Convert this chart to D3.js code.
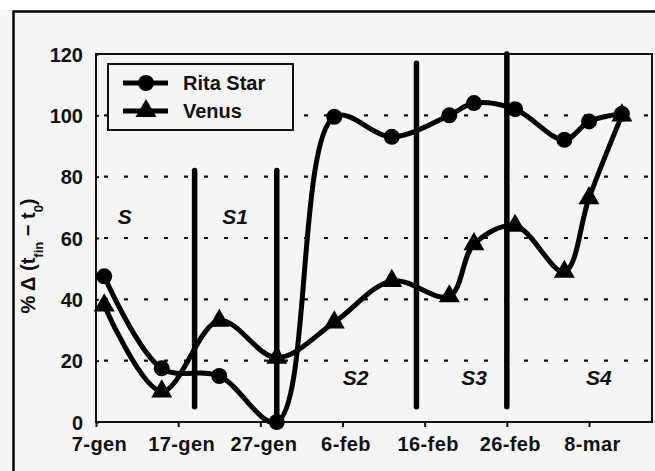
<!DOCTYPE html>
<html>
<head>
<meta charset="utf-8">
<script src="https://cdn.jsdelivr.net/npm/d3@7"></script>
<style>
  body { margin: 0; background: #fff; }
  text { font-family: "Liberation Sans", Arial, sans-serif; font-weight: bold; fill: #111; }
</style>
</head>
<body>
<div id="chart"></div>
<script>
// sampling dates (year is not shown, non-leap)
var dates = ["2001-01-08", "2001-01-15", "2001-01-22", "2001-01-29", "2001-02-05", "2001-02-12",
             "2001-02-19", "2001-02-22", "2001-02-27", "2001-03-05", "2001-03-08", "2001-03-12"]
var ritaStar = [47.5, 17.5, 15, 0, 99.5, 93, 100, 104, 102, 92, 98, 100.5]
var venus    = [38, 10, 33, 21, 32.5, 46, 41, 58, 64, 49, 73, 100]

var tickDates  = ["2001-01-07", "2001-01-17", "2001-01-27", "2001-02-06", "2001-02-16", "2001-02-26", "2001-03-08"]
var tickLabels = ["7-gen", "17-gen", "27-gen", "6-feb", "16-feb", "26-feb", "8-mar"]
var yTicks = [0, 20, 40, 60, 80, 100, 120]

// phase dividers and names
var dividerDates = ["2001-01-19", "2001-01-29", "2001-02-15", "2001-02-26"]
var dividerFrom  = [5, 0, 5, 5]
var dividerTo    = [82, 82, 117, 120]
var phaseNames = ["S", "S1", "S2", "S3", "S4"]
var phaseDates = ["2001-01-10T12:00", "2001-01-23T22:00", "2001-02-07T14:00", "2001-02-22", "2001-03-09T05:00"]
var phaseVals  = [64.5, 64.5, 12, 12, 12]

var parse = d3.isoParse

function showChart() {
  var width = 655, height = 471
  var margin = { left: 96, right: 3, top: 54, bottom: 49 }

  var svg = d3.select("#chart").append("svg")
      .attr("width", width)
      .attr("height", height)

  // page background and frame
  svg.append("rect").attr("x", 0).attr("y", 10).attr("width", width).attr("height", height - 10)
      .attr("fill", "#f5f5f5")
  svg.append("path").attr("d", "M13.5,471V11.5H655")
      .attr("fill", "none").attr("stroke", "#000").attr("stroke-width", 2.5)

  var x = d3.scaleTime()
      .domain([parse("2001-01-07"), parse("2001-03-15T16:00")])
      .range([margin.left, width - margin.right])
  var y = d3.scaleLinear()
      .domain([0, 120])
      .range([height - margin.bottom, margin.top])

  // dotted grid
  svg.append("g").selectAll("line")
    .data(yTicks.filter(function(d){ return d > 0 && d < 120 }))
    .enter().append("line")
      .attr("x1", x.range()[0] + 8).attr("x2", x.range()[1])
      .attr("y1", function(d){ return y(d) }).attr("y2", function(d){ return y(d) })
      .attr("stroke", "#111").attr("stroke-width", 2.2)
      .attr("stroke-dasharray", "4,16")

  // plot frame
  svg.append("rect")
      .attr("x", x.range()[0]).attr("y", y(120))
      .attr("width", x.range()[1] - x.range()[0]).attr("height", y(0) - y(120))
      .attr("fill", "none").attr("stroke", "#111").attr("stroke-width", 2)

  // axes
  var xAxis = svg.append("g")
      .attr("transform", "translate(0," + y(0) + ")")
      .call(d3.axisBottom(x)
        .tickValues(tickDates.map(parse))
        .tickFormat(function(d, i){ return tickLabels[i] })
        .tickSize(5).tickPadding(10))
  xAxis.select(".domain").remove()
  xAxis.selectAll("line").attr("stroke", "#111").attr("stroke-width", 2)
  xAxis.selectAll("text").style("font-size", "20px").style("letter-spacing", "0.4px").attr("dx", "0.15em")

  var yAxis = svg.append("g")
      .attr("transform", "translate(" + x.range()[0] + ",0)")
      .call(d3.axisLeft(y).tickValues(yTicks).tickSize(4).tickPadding(9))
  yAxis.select(".domain").remove()
  yAxis.selectAll("line").attr("x2", 3).attr("stroke", "#111").attr("stroke-width", 2)
  yAxis.selectAll("text").style("font-size", "20px").attr("dy", "0.36em")

  // y title
  var title = svg.append("text")
      .attr("transform", "translate(35," + 256 + ") rotate(-90)")
      .attr("text-anchor", "middle")
      .style("font-size", "20px")
  title.append("tspan").text("% \u0394 (t")
  title.append("tspan").text("fin").attr("baseline-shift", "sub").style("font-size", "13px")
  title.append("tspan").text(" \u2212 t")
  title.append("tspan").text("0").attr("baseline-shift", "sub").style("font-size", "13px")
  title.append("tspan").text(")")

  // phase dividers
  svg.append("g").selectAll("line")
    .data(dividerDates)
    .enter().append("line")
      .attr("x1", function(d){ return x(parse(d)) }).attr("x2", function(d){ return x(parse(d)) })
      .attr("y1", function(d, i){ return y(dividerFrom[i]) })
      .attr("y2", function(d, i){ return y(dividerTo[i]) })
      .attr("stroke", "#000").attr("stroke-width", 5.5).attr("stroke-linecap", "round")

  svg.append("g").selectAll("text")
    .data(phaseNames)
    .enter().append("text")
      .attr("x", function(d, i){ return x(parse(phaseDates[i])) })
      .attr("y", function(d, i){ return y(phaseVals[i]) })
      .attr("text-anchor", "middle")
      .style("font-size", "21px").style("font-style", "italic")
      .text(function(d){ return d })

  // series
  var line = d3.line()
      .x(function(d){ return x(d.date) })
      .y(function(d){ return y(d.value) })
      .curve(d3.curveCatmullRom.alpha(0.5))

  function toPoints(values) {
    return values.map(function(v, i){ return { date: parse(dates[i]), value: v } })
  }
  var rita = toPoints(ritaStar)
  var ven = toPoints(venus)

  svg.append("path").datum(ven).attr("d", line)
      .attr("fill", "none").attr("stroke", "#000").attr("stroke-width", 5).attr("stroke-linejoin", "round")
  svg.append("path").datum(rita).attr("d", line)
      .attr("fill", "none").attr("stroke", "#000").attr("stroke-width", 5).attr("stroke-linejoin", "round")

  var tri = d3.symbol().type(d3.symbolTriangle).size(190)
  svg.append("g").selectAll("path")
    .data(ven)
    .enter().append("path")
      .attr("d", tri)
      .attr("transform", function(d){ return "translate(" + x(d.date) + "," + y(d.value) + ")" })
      .attr("fill", "#000")

  svg.append("g").selectAll("circle")
    .data(rita)
    .enter().append("circle")
      .attr("cx", function(d){ return x(d.date) })
      .attr("cy", function(d){ return y(d.value) })
      .attr("r", 8)
      .attr("fill", "#000")

  // legend
  var lg = svg.append("g").attr("transform", "translate(108,64)")
  lg.append("rect").attr("width", 185).attr("height", 66)
      .attr("fill", "#f5f5f5").attr("stroke", "#111").attr("stroke-width", 2)
  var entries = ["Rita Star", "Venus"]
  entries.forEach(function(name, i) {
    var cy = 19 + i * 28
    lg.append("line").attr("x1", 15).attr("x2", 60).attr("y1", cy).attr("y2", cy)
        .attr("stroke", "#000").attr("stroke-width", 5)
    if (i == 0) {
      lg.append("circle").attr("cx", 38).attr("cy", cy).attr("r", 8).attr("fill", "#000")
    } else {
      lg.append("path").attr("d", tri).attr("transform", "translate(38," + cy + ")").attr("fill", "#000")
    }
    lg.append("text").attr("x", 75).attr("y", cy + 7)
        .style("font-size", "20px")
        .text(name)
  })
}

showChart()
</script>
</body>
</html>
